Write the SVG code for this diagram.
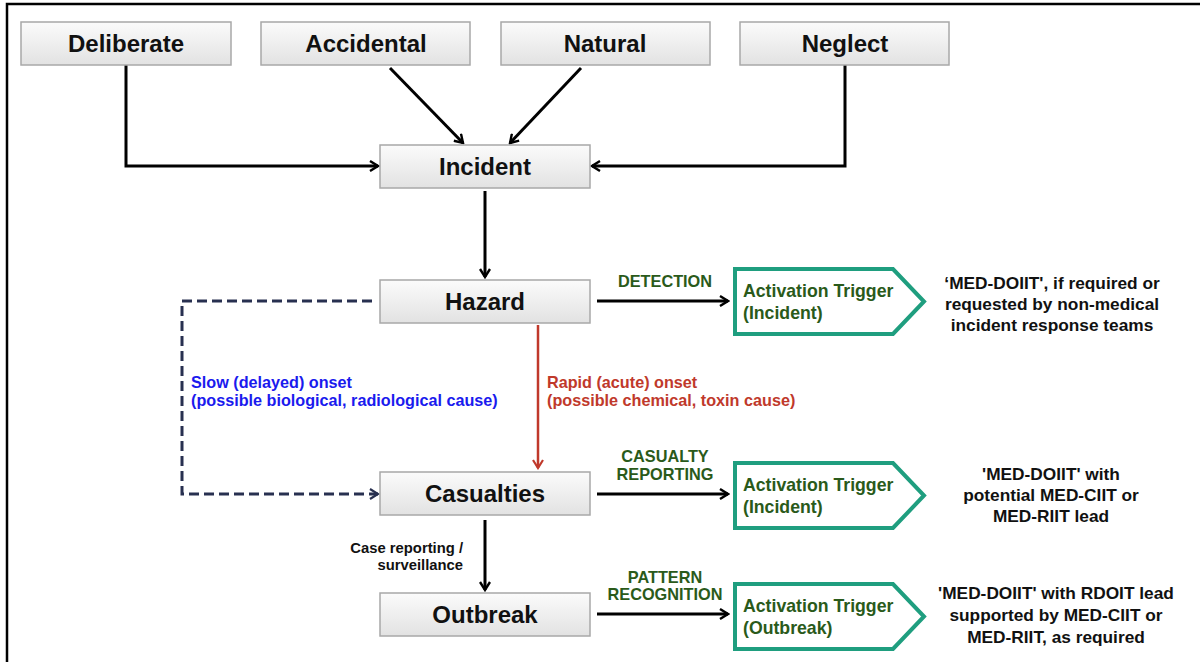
<svg xmlns="http://www.w3.org/2000/svg" width="1200" height="662" viewBox="0 0 1200 662">
<defs>
<linearGradient id="boxg" x1="0" y1="0" x2="0" y2="1">
<stop offset="0" stop-color="#fbfbfb"/>
<stop offset="1" stop-color="#e2e2e2"/>
</linearGradient>
<marker id="ah" viewBox="0 0 12 12" refX="10" refY="6" markerWidth="12" markerHeight="12" markerUnits="userSpaceOnUse" orient="auto">
<path d="M2,1 L10,6 L2,11" fill="none" stroke="#000" stroke-width="2.4"/>
</marker>
<marker id="ahr" viewBox="0 0 12 12" refX="10" refY="6" markerWidth="12" markerHeight="12" markerUnits="userSpaceOnUse" orient="auto">
<path d="M2,1 L10,6 L2,11" fill="none" stroke="#c0392b" stroke-width="2.2"/>
</marker>
<marker id="ahd" viewBox="0 0 12 12" refX="10" refY="6" markerWidth="12" markerHeight="12" markerUnits="userSpaceOnUse" orient="auto">
<path d="M2,1 L10,6 L2,11" fill="none" stroke="#283050" stroke-width="2.2"/>
</marker>
</defs>
<style>
text{font-family:"Liberation Sans",Arial,sans-serif;font-weight:bold}
.box{fill:url(#boxg);stroke:#a8a8a8;stroke-width:1.5}
.bt{font-size:24px;fill:#111;text-anchor:middle}
.trig{fill:#fff;stroke:#1f9e7f;stroke-width:4;stroke-linejoin:miter}
.tt{font-size:17.7px;fill:#2a5a1a}
.lbl{font-size:16.3px;fill:#2a5a1a;text-anchor:middle}
.rt{font-size:17.3px;fill:#111;text-anchor:middle}
.ln{fill:none;stroke:#000;stroke-width:3;marker-end:url(#ah)}
</style>
<rect width="1200" height="662" fill="#fff"/>
<path d="M7,662 V4 H1200" fill="none" stroke="#000" stroke-width="2.5"/>

<g id="connectors">
<path class="ln" d="M126,65 V166 H378"/>
<path class="ln" d="M390,68 L463,143"/>
<path class="ln" d="M581,68 L510,143"/>
<path class="ln" d="M845,65 V166 H592"/>
<path class="ln" d="M485,191 V277"/>
<path class="ln" d="M597,301 H728"/>
<path d="M372,301 H182 V494 H378" fill="none" stroke="#283050" stroke-width="3" stroke-dasharray="10,5" marker-end="url(#ahd)"/>
<path d="M538,325 V468" fill="none" stroke="#c0392b" stroke-width="2.5" marker-end="url(#ahr)"/>
<path class="ln" d="M597,494 H728"/>
<path class="ln" d="M485,520 V590"/>
<path class="ln" d="M597,614 H728"/>
</g>

<g id="deliberate"><rect class="box" x="21" y="22" width="210" height="43"/><text class="bt" x="126" y="52">Deliberate</text></g>
<g id="accidental"><rect class="box" x="261" y="22" width="209" height="43"/><text class="bt" x="366" y="52">Accidental</text></g>
<g id="natural"><rect class="box" x="501" y="22" width="209" height="43"/><text class="bt" x="605" y="52">Natural</text></g>
<g id="neglect"><rect class="box" x="740" y="22" width="209" height="43"/><text class="bt" x="845" y="52">Neglect</text></g>
<g id="incident"><rect class="box" x="380" y="145" width="210" height="43"/><text class="bt" x="485" y="175">Incident</text></g>
<g id="hazard"><rect class="box" x="380" y="280" width="210" height="43"/><text class="bt" x="485" y="310">Hazard</text></g>
<g id="casualties"><rect class="box" x="380" y="472" width="210" height="43"/><text class="bt" x="485" y="502">Casualties</text></g>
<g id="outbreak"><rect class="box" x="380" y="593" width="210" height="43"/><text class="bt" x="485" y="623">Outbreak</text></g>

<g id="trigger1">
<path class="trig" d="M735,269 H893 L924,301.5 L893,334 H735 Z"/>
<text class="tt" x="743" y="297">Activation Trigger</text>
<text class="tt" x="743" y="319">(Incident)</text>
</g>
<g id="trigger2">
<path class="trig" d="M735,463 H893 L924,495.5 L893,528 H735 Z"/>
<text class="tt" x="743" y="491">Activation Trigger</text>
<text class="tt" x="743" y="513">(Incident)</text>
</g>
<g id="trigger3">
<path class="trig" d="M735,584 H893 L924,616.5 L893,649 H735 Z"/>
<text class="tt" x="743" y="612">Activation Trigger</text>
<text class="tt" x="743" y="634">(Outbreak)</text>
</g>

<g id="labels">
<text class="lbl" x="665" y="287">DETECTION</text>
<text class="lbl" x="665" y="462">CASUALTY</text>
<text class="lbl" x="665" y="480">REPORTING</text>
<text class="lbl" x="665" y="583">PATTERN</text>
<text class="lbl" x="665" y="600">RECOGNITION</text>
<text x="191" y="388" font-size="16.2" fill="#1a1aee">Slow (delayed) onset</text>
<text x="191" y="406" font-size="16.2" fill="#1a1aee">(possible biological, radiological cause)</text>
<text x="547" y="388" font-size="16.2" fill="#c0392b">Rapid (acute) onset</text>
<text x="547" y="406" font-size="16.2" fill="#c0392b">(possible chemical, toxin cause)</text>
<text x="463" y="553" font-size="14.8" fill="#111" text-anchor="end">Case reporting /</text>
<text x="463" y="570" font-size="14.8" fill="#111" text-anchor="end">surveillance</text>
</g>

<g id="outcomes">
<text class="rt" x="1052" y="289">‘MED-DOIIT', if required or</text>
<text class="rt" x="1052" y="310">requested by non-medical</text>
<text class="rt" x="1052" y="331">incident response teams</text>
<text class="rt" x="1051" y="480">'MED-DOIIT' with</text>
<text class="rt" x="1051" y="501">potential MED-CIIT or</text>
<text class="rt" x="1051" y="522">MED-RIIT lead</text>
<text class="rt" x="1056" y="599">'MED-DOIIT' with RDOIT lead</text>
<text class="rt" x="1056" y="621">supported by MED-CIIT or</text>
<text class="rt" x="1056" y="643">MED-RIIT, as required</text>
</g>
</svg>
